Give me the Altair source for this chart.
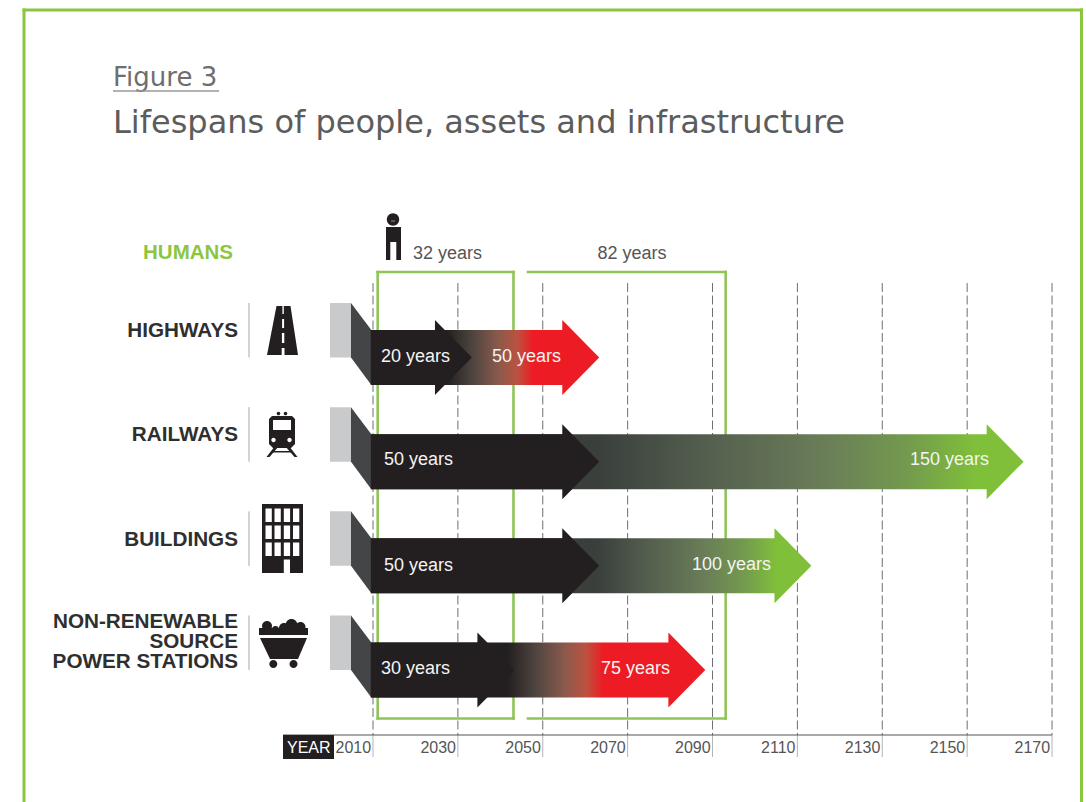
import altair as alt
import pandas as pd

# ---- chart values -------------------------------------------------------
sectors = ["HIGHWAYS", "RAILWAYS", "BUILDINGS", "NON-RENEWABLE SOURCE POWER STATIONS"]
first_life = [20, 50, 50, 30]
second_life = [50, 150, 100, 75]
fade_from = [2027.4, 2062.8, 2062.8, 2041.6]
fade_to = [2047.7, 2151.8, 2105.0, 2064.2]
human_lives = [32, 82]
tick_years = [2010, 2030, 2050, 2070, 2090, 2110, 2130, 2150, 2170]

# colour ramps for the long arrows: (fraction of the fade, colour)
RED_RAMP = [(0, "#231f20"), (0.3, "#4f4540"), (0.6, "#8a5a4c"), (0.82, "#bc5240"), (1, "#ed1c24")]
GREEN_RAMP = [(0, "#3a3f3c"), (0.3, "#55604f"), (0.6, "#6a7d58"), (0.82, "#739a4e"), (1, "#7fbf3a")]
ramps = [RED_RAMP, GREEN_RAMP, GREEN_RAMP, RED_RAMP]

# ---- drawing constants ---------------------------------------------------
W, H = 1086, 802
PX_PER_YEAR = 4.244
X2010 = 373
ROW0, ROW_STEP = 357.5, 104.17
ORIGIN = 2013.3      # year from which each lifespan is counted
HUMAN_START = 2011.1
BAR_START = 2009.5
HEAD = 8.7           # arrow head length, years


def xp(px):
    return 2010 + (px - X2010) / PX_PER_YEAR


def yp(px):
    return (px - ROW0) / ROW_STEP


SHAFT = 27.5 / ROW_STEP
BARB = 37.5 / ROW_STEP
GREEN = "#8cc63f"
BOX_GREEN = "#8fc457"
INK = "#231f20"

x_scale = alt.Scale(domain=[xp(0), xp(W)], range=[0, W], nice=False, zero=False)
y_scale = alt.Scale(domain=[yp(0), yp(H)], range=[0, H], nice=False, zero=False)
X = alt.X("x:Q", scale=x_scale, axis=None)
Y = alt.Y("y:Q", scale=y_scale, axis=None)
X2 = alt.X2("x2:Q")
Y2 = alt.Y2("y2:Q")


def rules(segments, **style):
    df = pd.DataFrame(segments, columns=["x", "y", "x2", "y2"])
    return alt.Chart(df).mark_rule(**style).encode(x=X, y=Y, x2=X2, y2=Y2)


def arrow_outline(row, years):
    tip = ORIGIN + years
    neck = tip - HEAD
    pts = [
        (BAR_START, row - SHAFT, row + SHAFT),
        (neck, row - SHAFT, row + SHAFT),
        (neck, row - BARB, row + BARB),
        (tip, row, row),
    ]
    return pd.DataFrame([{"x": p[0], "y": p[1], "y2": p[2]} for p in pts])


def area_layer(df, color):
    return alt.Chart(df).mark_area(color=color).encode(x=X, y=Y, y2=Y2)


def texts(rows, **style):
    df = pd.DataFrame(rows, columns=["x", "y", "t"])
    return alt.Chart(df).mark_text(**style).encode(x=X, y=Y, text="t:N")


layers = []

# outer frame
layers.append(
    rules(
        [
            (xp(24), yp(10), xp(1081.5), yp(10)),
            (xp(24), yp(10), xp(24), yp(H + 5)),
            (xp(1081.5), yp(10), xp(1081.5), yp(H + 5)),
        ],
        color=GREEN,
        strokeWidth=3,
        strokeCap="square",
    )
)

# heading
layers.append(
    texts([(xp(113), yp(86), "Figure 3")], font="DejaVu Sans", fontSize=26,
          color="#6e6e6e", align="left", baseline="alphabetic")
)
layers.append(rules([(xp(113), yp(91), xp(219), yp(91))], color="#999999", strokeWidth=1.5))
layers.append(
    texts([(xp(113), yp(133), "Lifespans of people, assets and infrastructure")],
          font="DejaVu Sans", fontSize=32, color="#5c5c5c", align="left",
          baseline="alphabetic")
)

# dashed year gridlines, solid ticks under the axis, and the axis line
layers.append(
    rules([(y, yp(283), y, yp(735)) for y in tick_years],
          color="#6d6e71", strokeWidth=1, strokeDash=[9, 3.5])
)
layers.append(
    rules([(y, yp(735), y, yp(757)) for y in tick_years], color="#b5b5b5", strokeWidth=1)
)
layers.append(rules([(xp(283), yp(735), tick_years[-1], yp(735))], color="#555555", strokeWidth=1.2))

# human lifespan brackets
bx1 = HUMAN_START + human_lives[0]
bx2 = HUMAN_START + human_lives[1]
btop, bbot = yp(272), yp(718.5)
layers.append(
    rules(
        [
            (HUMAN_START, btop, bx1, btop),
            (HUMAN_START, bbot, bx1, bbot),
            (HUMAN_START, btop, HUMAN_START, bbot),
            (bx1, btop, bx1, bbot),
            (xp(528), btop, bx2, btop),
            (xp(528), bbot, bx2, bbot),
            (bx2, btop, bx2, bbot),
        ],
        color=BOX_GREEN,
        strokeWidth=2.6,
        strokeCap="square",
    )
)

# sector rows: stub, sloped shoulder, fading long arrow, black short arrow
for r in range(len(sectors)):
    stub_top = r - 54.5 / ROW_STEP
    layers.append(
        alt.Chart(pd.DataFrame([{"x": xp(330), "x2": xp(351), "y": stub_top, "y2": r}]))
        .mark_rect(color="#c9cacc")
        .encode(x=X, x2=X2, y=Y, y2=Y2)
    )
    shoulder = pd.DataFrame(
        [
            {"x": xp(351), "y": stub_top, "y2": r},
            {"x": BAR_START + 0.1, "y": r - SHAFT, "y2": r + SHAFT},
        ]
    )
    layers.append(area_layer(shoulder, "#434547"))

    tip = ORIGIN + second_life[r]
    span = tip - BAR_START
    a = (fade_from[r] - BAR_START) / span
    b = (fade_to[r] - BAR_START) / span
    ramp = ramps[r]
    stops = [alt.GradientStop(offset=0, color=ramp[0][1])]
    stops += [alt.GradientStop(offset=a + f * (b - a), color=c) for f, c in ramp]
    stops += [alt.GradientStop(offset=1, color=ramp[-1][1])]
    fill = alt.Gradient(gradient="linear", x1=0, x2=1, y1=0, y2=0, stops=stops)
    layers.append(area_layer(arrow_outline(r, second_life[r]), fill))
    layers.append(area_layer(arrow_outline(r, first_life[r]), INK))

# value labels on the arrows
on_arrow = dict(font="Liberation Sans", fontSize=18, color="#f4f4f2", align="left", baseline="middle")
layers.append(
    texts(
        [
            (xp(381), yp(356.5), f"{first_life[0]} years"),
            (xp(492), yp(356.5), f"{second_life[0]} years"),
            (xp(384), yp(459.5), f"{first_life[1]} years"),
            (xp(910), yp(459.5), f"{second_life[1]} years"),
            (xp(384), yp(566), f"{first_life[2]} years"),
            (xp(692), yp(564.5), f"{second_life[2]} years"),
            (xp(381), yp(668.5), f"{first_life[3]} years"),
            (xp(601), yp(668.5), f"{second_life[3]} years"),
        ],
        **on_arrow,
    )
)

# sector names
name_style = dict(font="Liberation Sans", fontSize=20.7, fontWeight="bold", color="#2f2f2f",
                  align="right", baseline="middle")
layers.append(
    texts(
        [
            (xp(238), yp(330.5), "HIGHWAYS"),
            (xp(238), yp(435), "RAILWAYS"),
            (xp(238), yp(539.5), "BUILDINGS"),
        ],
        **name_style,
    )
)
layers.append(
    texts(
        [(xp(238), yp(622), "NON-RENEWABLE\nSOURCE\nPOWER STATIONS")],
        lineBreak="\n",
        lineHeight=20,
        **name_style,
    )
)
layers.append(
    rules([(xp(249), r - 54.5 / ROW_STEP, xp(249), float(r)) for r in range(4)],
          color="#a8a8a8", strokeWidth=1)
)

# humans row
layers.append(
    texts([(xp(233), yp(253), "HUMANS")], font="Liberation Sans", fontSize=20.5, fontWeight="bold",
          color=GREEN, align="right", baseline="middle")
)
grey_label = dict(font="Liberation Sans", fontSize=18, color="#555555", baseline="middle")
layers.append(texts([(xp(413), yp(254), f"{human_lives[0]} years")], align="left", **grey_label))
layers.append(texts([(xp(632), yp(254), f"{human_lives[1]} years")], align="center", **grey_label))

# year axis labels
layers.append(
    alt.Chart(pd.DataFrame([{"x": xp(283), "x2": xp(334), "y": yp(735), "y2": yp(759)}]))
    .mark_rect(color=INK)
    .encode(x=X, x2=X2, y=Y, y2=Y2)
)
layers.append(
    texts([(xp(287), yp(748), "YEAR")], font="Liberation Sans", fontSize=16, color="#ffffff",
          align="left", baseline="middle")
)
layers.append(
    texts([(y - 0.45, yp(748), str(y)) for y in tick_years], font="Liberation Sans", fontSize=16,
          color="#555555", align="right", baseline="middle")
)


# ---- pictograms, built from small path pieces in local pixel units -------
def rect(o, x0, y0, x1, y1):
    return poly(o, [(x0, y0), (x1, y0), (x1, y1), (x0, y1)])


def poly(o, pts):
    return "M" + "L".join(f"{x - o[0]:.1f},{y - o[1]:.1f}" for x, y in pts) + "Z"


def disc(o, cx, cy, r):
    cx, cy = cx - o[0], cy - o[1]
    return f"M{cx - r:.1f},{cy:.1f}A{r},{r} 0 1 0 {cx + r:.1f},{cy:.1f}A{r},{r} 0 1 0 {cx - r:.1f},{cy:.1f}Z"


icon_parts = []


def icon(o, colour, *paths):
    # each piece is its own symbol so that overlapping pieces never cancel out
    for p in paths:
        icon_parts.append({"idx": len(icon_parts), "x": xp(o[0]), "y": yp(o[1]), "p": p, "c": colour})


# person
o = (393, 240)
icon(o, INK, disc(o, 393, 219.5, 6.2), rect(o, 386, 227, 401, 260))
icon(o, "#ffffff", rect(o, 390.3, 242, 396.3, 261))
icon(o, "#8a8a8a", rect(o, 391, 220.5, 395, 221.5))

# road
o = (283, 330)
icon(o, INK, poly(o, [(276.5, 306), (290.5, 306), (298, 355), (267, 355)]))
icon(
    o,
    "#ffffff",
    rect(o, 282.4, 306, 283.8, 314),
    rect(o, 282.1, 319, 284.1, 328),
    rect(o, 281.9, 333, 284.3, 343),
    rect(o, 281.7, 348, 284.5, 355),
)

# train
o = (282, 434)
icon(
    o,
    INK,
    disc(o, 278.5, 413.5, 1.8),
    disc(o, 285.5, 413.5, 1.8),
    poly(o, [(272, 416), (292, 416), (295, 419), (295, 444), (291, 448), (273, 448), (269, 444), (269, 419)]),
    poly(o, [(275, 446), (279, 446), (269.5, 457), (266.5, 457)]),
    poly(o, [(285, 446), (289, 446), (297.5, 457), (294.5, 457)]),
    rect(o, 272, 451, 292, 452.5),
)
icon(o, "#ffffff", rect(o, 273, 420, 291, 430), disc(o, 273.5, 440, 2.2), disc(o, 289.5, 440, 2.2))

# building
o = (282, 538)
icon(o, INK, rect(o, 262, 504, 303, 573))
windows = []
for wy0, wy1 in [(508.5, 522), (525.5, 539), (542.5, 556)]:
    for wx0 in [265.5, 274.5, 283.8, 293]:
        windows.append(rect(o, wx0, wy0, wx0 + 6.3, wy1))
icon(o, "#ffffff", *windows, rect(o, 283.8, 559.5, 290, 573))

# coal wagon
o = (283, 640)
icon(
    o,
    INK,
    disc(o, 267, 626, 5),
    disc(o, 275.5, 630, 4),
    disc(o, 284, 628, 5),
    disc(o, 291.5, 625, 6),
    disc(o, 300.5, 627, 5),
    rect(o, 259, 628, 308, 635),
    poly(o, [(260, 638), (307, 638), (298, 659), (270, 659)]),
    disc(o, 273.3, 664, 4),
    disc(o, 293.5, 664, 4),
)

layers.append(
    alt.Chart(pd.DataFrame(icon_parts))
    .mark_point(filled=True, opacity=1, strokeWidth=0, size=4)
    .encode(
        x=X,
        y=Y,
        shape=alt.Shape("p:N", scale=None),
        fill=alt.Fill("c:N", scale=None),
        order=alt.Order("idx:Q"),
    )
)

chart = (
    alt.layer(*layers)
    .properties(width=W, height=H, padding=0, autosize=alt.AutoSizeParams(type="none"), background="#ffffff")
    .configure_view(stroke=None)
)

chart.save("out.html", embed_options={"renderer": "svg", "actions": False})
